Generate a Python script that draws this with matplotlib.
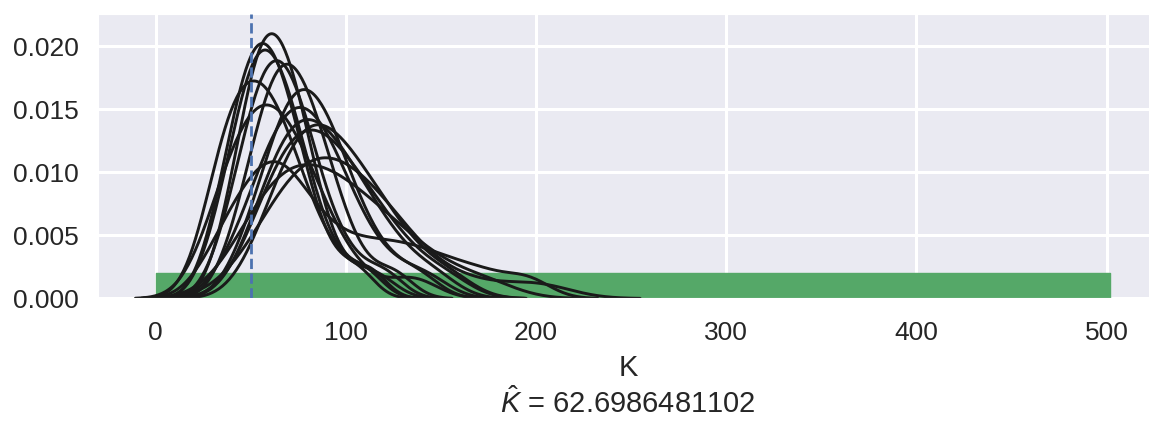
import matplotlib
matplotlib.use("Agg")
import matplotlib.pyplot as plt
import seaborn as sns

# posterior draws of K, one list per run
k_samples = [
    [35.5, 42.5, 46, 49, 51.5, 54, 56, 58, 60, 62, 64.5, 66.5, 69, 71.5, 74, 77, 80.5, 84.5, 94, 112],
    [29.5, 36.5, 40.5, 43.5, 46, 48.5, 51, 53, 55, 57.5, 59.5, 62, 64, 67, 69.5, 73, 76.5, 80.5, 90, 106],
    [30, 37.5, 41.5, 45, 47.5, 50, 52, 54.5, 56.5, 59, 61, 63.5, 66, 68.5, 71.5, 75, 78.5, 83, 93, 110],
    [35.5, 43, 47, 50.5, 53, 55.5, 58, 60.5, 62.5, 65, 67.5, 69.5, 72.5, 75, 78, 81.5, 85, 92, 102, 120],
    [40, 48, 52.5, 55.5, 58.5, 61, 63.5, 66, 68, 70.5, 73, 75.5, 78, 81, 84, 87.5, 91.5, 96, 106, 125],
    [27, 32, 35.5, 38.5, 41, 44, 46.5, 49.5, 52, 54.5, 57, 60, 63, 66, 69, 73, 77.5, 84, 95, 115],
    [45.5, 54, 59, 63, 66, 69, 71.5, 74.5, 77, 79.5, 82.5, 85, 88, 91.5, 94.5, 98.5, 103, 110, 120, 138],
    [40, 49.5, 55, 59, 62.5, 65.5, 69, 71.5, 74.5, 77.5, 80.5, 83.5, 86.5, 90, 93.5, 98, 103, 110, 123, 142],
    [28, 34, 38.5, 42, 45.5, 49, 52, 54.5, 57.5, 60.5, 63, 66, 69.5, 73, 76.5, 80.5, 85.5, 91, 105, 135],
    [48.5, 56.5, 61.5, 65, 68.5, 71.5, 74.5, 78, 81, 84.5, 87.5, 91, 95, 98.5, 103, 108, 113.5, 120.5, 130, 147],
    [53, 61.5, 66.5, 70.5, 74, 77, 80, 83.5, 86.5, 90, 93.5, 97, 101, 105, 109.5, 114.5, 120.5, 127.5, 137.5, 155],
    [44, 51.5, 57, 61.5, 66, 70, 74, 78.5, 83, 87.5, 92, 96.5, 101.5, 107, 113, 119.5, 127, 136.5, 149.5, 173],
    [49.5, 59.5, 65.5, 70, 74, 78, 81.5, 85.5, 89.5, 93.5, 97.5, 102, 106.5, 111, 116.5, 122.5, 129, 138, 163, 200],
    [30, 38, 44, 49, 54, 58, 61.5, 65, 68.5, 73, 78, 84, 92, 101, 111, 121, 131, 142, 155, 172, 195],
    [48.5, 57, 62, 66, 69.5, 73, 76, 79.5, 83, 86.5, 90, 93.5, 97.5, 101.5, 106.5, 111.5, 117.5, 125, 135, 153],
]
bw_factors = [0.5] * 13 + [0.27, 0.5]

# uniform prior on K
prior_x = [0, 502]
prior_density = [0.002, 0.002]

true_k = 50
k_hat = 62.6986481102

sns.set_style("darkgrid")
plt.rcParams["font.family"] = ["Liberation Sans", "DejaVu Sans"]
plt.rcParams["mathtext.fontset"] = "custom"
plt.rcParams["mathtext.rm"] = "Liberation Sans"
plt.rcParams["mathtext.it"] = "Liberation Sans:italic"

fig = plt.figure(figsize=(11.49, 4.21), dpi=100)
ax = fig.add_axes([0.0853, 0.291, 0.9225, 0.6758])

ax.fill_between(prior_x, 0, prior_density, color="#55a868", lw=1, zorder=1)

for samples, bw in zip(k_samples, bw_factors):
    sns.kdeplot(x=samples, bw_method=bw, cut=3, color="#1a1a1a", lw=2.1, ax=ax)

ax.axvline(true_k, color="#4c72b0", ls="--", lw=2.0, zorder=5)

ax.set_xlim(-30.3, 527)
ax.set_ylim(0, 0.02258)
ax.set_xticks([0, 100, 200, 300, 400, 500])
ax.set_yticks([0, 0.005, 0.01, 0.015, 0.02])
ax.tick_params(axis="x", labelsize=19, pad=16, length=0)
ax.tick_params(axis="y", labelsize=19, pad=14, length=0)
ax.grid(color="white", lw=2.2)
ax.set_ylabel("")
ax.set_xlabel("K\n$\\hat{K}$ = %s" % k_hat, fontsize=21, labelpad=7)

fig.savefig("out.png", dpi=100)
